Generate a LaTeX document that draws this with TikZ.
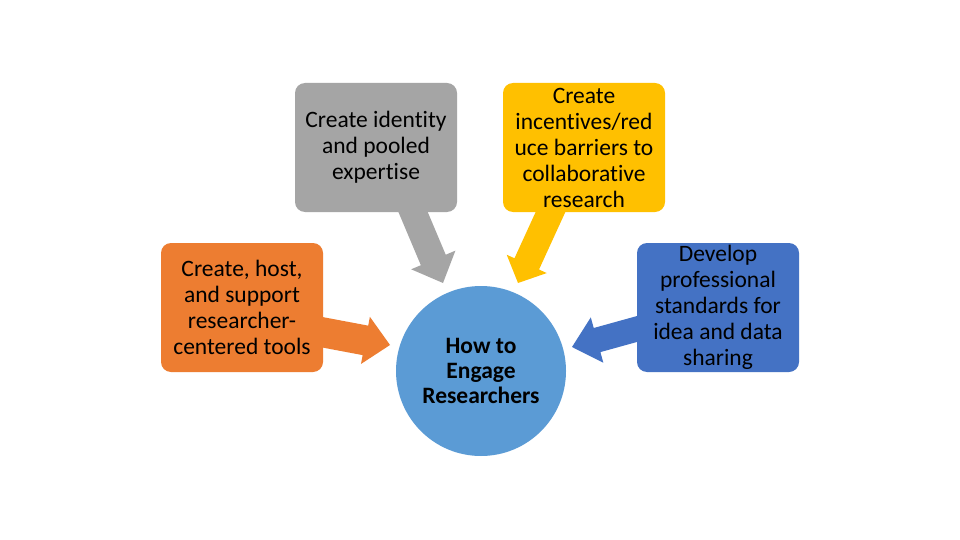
\documentclass[tikz,border=0pt]{standalone}
\usepackage{fontspec}
\setmainfont{Carlito}[Ligatures=CommonOff]
\usetikzlibrary{calc}
\definecolor{cgray}{HTML}{A5A5A5}
\definecolor{cyellow}{HTML}{FFC000}
\definecolor{corange}{HTML}{ED7D31}
\definecolor{cblue}{HTML}{4472C4}
\definecolor{ccircle}{HTML}{5B9BD5}
\newcommand\blkarrow[6]{%
  \path coordinate (hb) at ($(#2)!#5!(#1)$);
  \fill[#6] ($(#1)!#3!90:(#2)$) -- ($(hb)!#3!-90:(#1)$) -- ($(hb)!#4!-90:(#1)$) -- (#2)
    -- ($(hb)!#4!90:(#1)$) -- ($(hb)!#3!90:(#1)$) -- ($(#1)!#3!-90:(#2)$) -- cycle;}
\tikzset{
  box/.style={rounded corners=10pt, minimum width=162pt, minimum height=129pt,
    align=center, font=\fontsize{23.5}{26}\selectfont, inner sep=0pt, text=black},
}
\begin{document}
\begin{tikzpicture}[x=1pt,y=-1pt]
\useasboundingbox[fill=white] (0,0) rectangle (960,540);
% arrow endpoints
\coordinate (gs) at (408,200);
\coordinate (gt) at (443,283);
\coordinate (ys) at (556,200);
\coordinate (yt) at (518,283);
\coordinate (os) at (305,329);
\coordinate (ot) at (390,345);
\coordinate (bs) at (655,324);
\coordinate (bt) at (572,347);
\blkarrow{gs}{gt}{13.5pt}{24pt}{25pt}{cgray}
\blkarrow{ys}{yt}{13.5pt}{22pt}{21pt}{cyellow}
\blkarrow{os}{ot}{15pt}{24pt}{25pt}{corange}
\blkarrow{bs}{bt}{12.5pt}{23.5pt}{26pt}{cblue}
\node[box, fill=cgray] (g) at (376,147.5) {Create identity\\and pooled\\expertise};
\node[box, fill=cyellow] (y) at (584,147.5) {Create\\incentives/red\\uce barriers to\\collaborative\\research};
\node[box, fill=corange] (o) at (242,307.5) {Create, host,\\and support\\researcher-\\centered tools};
\node[box, fill=cblue] (b) at (718,307.5) {Develop\\professional\\standards for\\idea and data\\sharing};
\node[circle, fill=ccircle, minimum size=170pt, inner sep=0pt, align=center,
  font=\fontsize{23.5}{25}\selectfont\bfseries] (c) at (481,371) {How to\\Engage\\Researchers};
\end{tikzpicture}
\end{document}
